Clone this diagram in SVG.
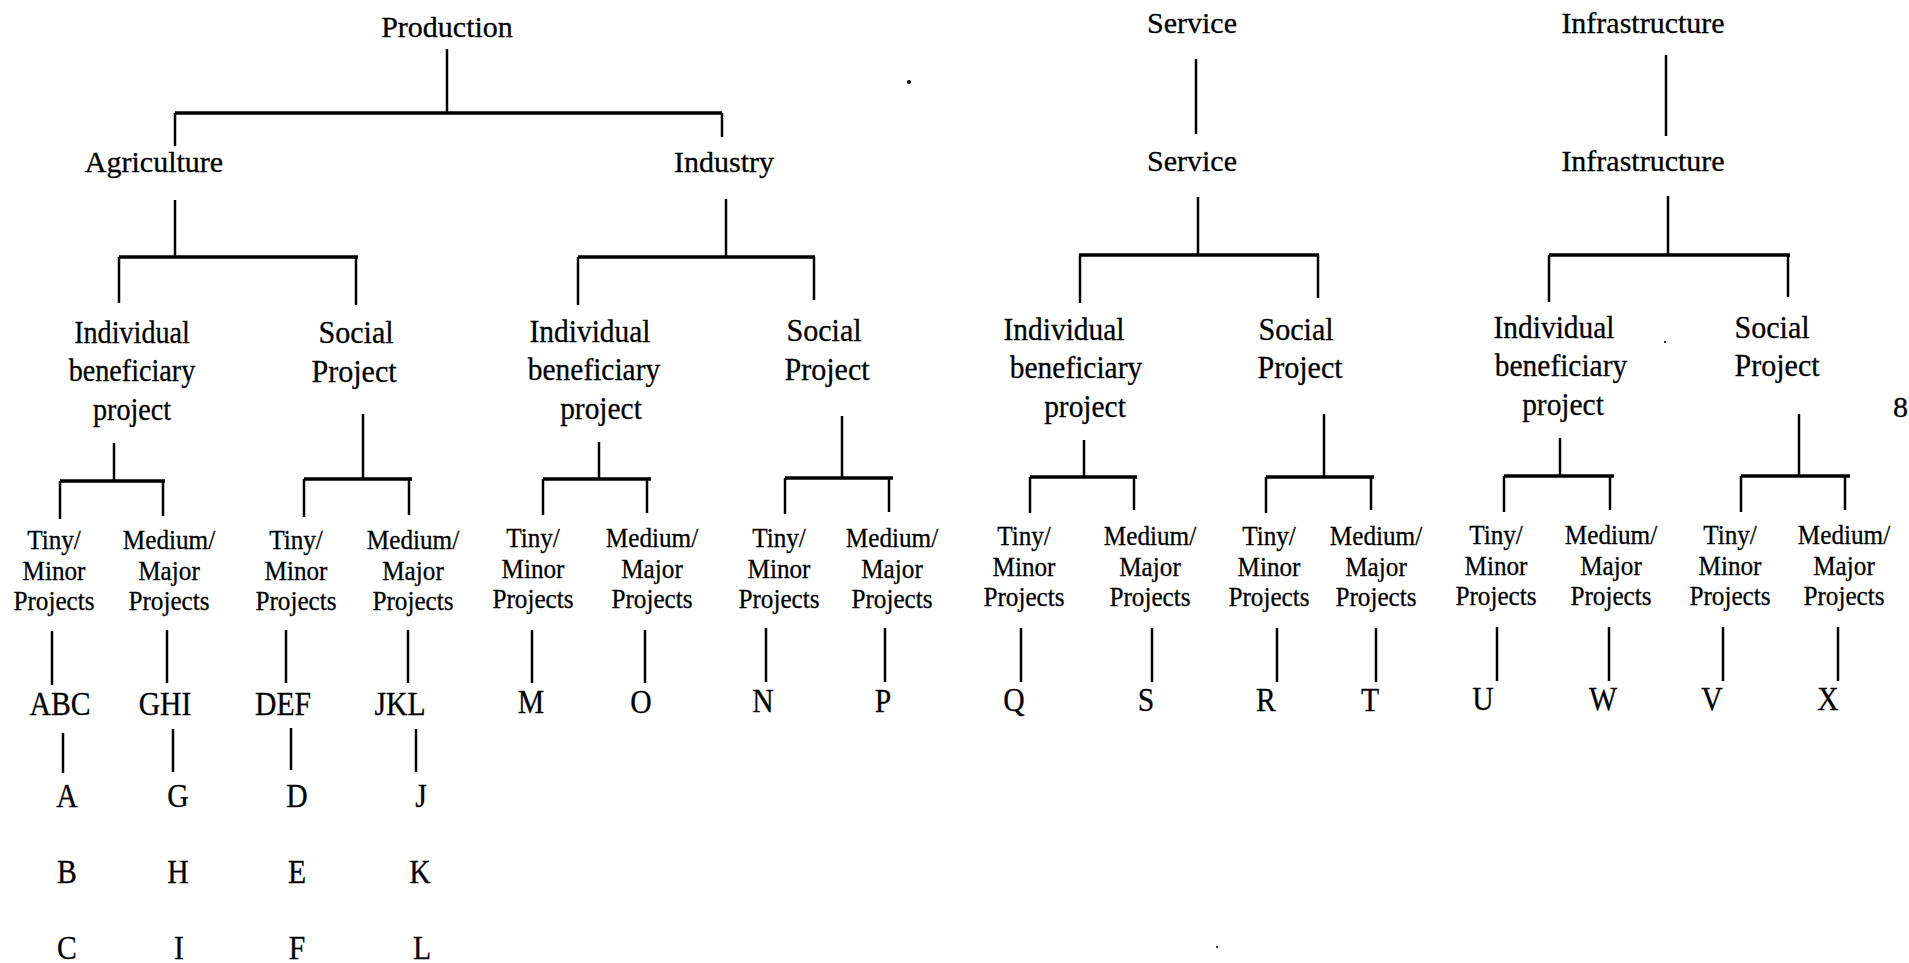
<svg xmlns="http://www.w3.org/2000/svg" width="1909" height="963" viewBox="0 0 1909 963">
<style>
text { font-family: "Liberation Serif", "Times New Roman", serif; fill: #000; text-anchor: middle; stroke: #000; stroke-width: 0.3; }
.t1 { font-size: 30px; }
.t3 { font-size: 32px; }
.t4 { font-size: 28px; }
.t5 { font-size: 33px; }
.v { stroke: #000; stroke-width: 2.5; fill: none; }
.b { stroke: #000; stroke-width: 3.5; fill: none; }
</style>
<rect width="1909" height="963" fill="#fff"/>

<g id="connectors">
  <!-- Production -->
  <path class="v" d="M447 49V112M175 113V146M722 113V137"/>
  <path class="b" d="M175 113H722"/>
  <!-- Agriculture -->
  <path class="v" d="M175 200V257M119 257V303M356 257V305"/>
  <path class="b" d="M119 257H358"/>
  <!-- Industry -->
  <path class="v" d="M726 199V257M578 257V305M814 257V300"/>
  <path class="b" d="M578 257H815"/>
  <!-- Service -->
  <path class="v" d="M1196 59V134M1198 197V255M1080 255V303M1318 255V298"/>
  <path class="b" d="M1079 255H1319"/>
  <!-- Infrastructure -->
  <path class="v" d="M1666 55V136M1668 196V255M1549 255V302M1788 255V297"/>
  <path class="b" d="M1549 255H1790"/>

  <!-- level 3 to level 4 -->
  <path class="v" d="M114 443V481M60 481V519M163 481V516"/>
  <path class="b" d="M60 481H165"/>
  <path class="v" d="M363 414V479M304 479V517M409 479V515"/>
  <path class="b" d="M304 479H412"/>
  <path class="v" d="M599 442V479M543 479V515M647 479V513"/>
  <path class="b" d="M543 479H651"/>
  <path class="v" d="M842 416V478M785 478V514M889 478V512"/>
  <path class="b" d="M785 478H893"/>
  <path class="v" d="M1084 440V477M1030 477V513M1134 477V510"/>
  <path class="b" d="M1030 477H1137"/>
  <path class="v" d="M1324 414V477M1266 477V513M1371 477V510"/>
  <path class="b" d="M1266 477H1374"/>
  <path class="v" d="M1560 438V476M1504 476V512M1610 476V510"/>
  <path class="b" d="M1504 476H1614"/>
  <path class="v" d="M1799 414V476M1741 476V512M1845 476V510"/>
  <path class="b" d="M1741 476H1850"/>

  <!-- level 4 to letters -->
  <path class="v" d="M52 631V685M167 630V683M286 630V683M408 630V683"/>
  <path class="v" d="M532 630V683M645 630V683M766 628V682M885 628V682"/>
  <path class="v" d="M1021 628V682M1152 628V682M1277 628V682M1376 628V682"/>
  <path class="v" d="M1497 627V681M1609 627V681M1723 627V681M1838 627V681"/>
  <!-- group letters to single letters -->
  <path class="v" d="M63 733V773M173 729V772M291 728V770M416 729V772"/>
</g>

<g id="n-production"><text class="t1" x="447" y="37">Production</text></g>
<g id="n-agriculture"><text class="t1" x="154" y="172">Agriculture</text></g>
<g id="n-industry"><text class="t1" x="724" y="172">Industry</text></g>
<g id="n-service-top"><text class="t1" x="1192" y="33">Service</text></g>
<g id="n-service"><text class="t1" x="1192" y="171">Service</text></g>
<g id="n-infrastructure-top"><text class="t1" x="1643" y="33">Infrastructure</text></g>
<g id="n-infrastructure"><text class="t1" x="1643" y="171">Infrastructure</text></g>

<g id="n-agri-individual">
  <text class="t3" transform="translate(132 343) scale(0.88 1)">Individual</text>
  <text class="t3" transform="translate(132 381) scale(0.88 1)">beneficiary</text>
  <text class="t3" transform="translate(132 420) scale(0.88 1)">project</text>
</g>
<g id="n-agri-social">
  <text class="t3" transform="translate(356 343) scale(0.94 1)">Social</text>
  <text class="t3" transform="translate(354 382) scale(0.94 1)">Project</text>
</g>
<g id="n-industry-individual">
  <text class="t3" transform="translate(590 342) scale(0.92 1)">Individual</text>
  <text class="t3" transform="translate(594 380) scale(0.92 1)">beneficiary</text>
  <text class="t3" transform="translate(601 419) scale(0.92 1)">project</text>
</g>
<g id="n-industry-social">
  <text class="t3" transform="translate(824 341) scale(0.94 1)">Social</text>
  <text class="t3" transform="translate(827 380) scale(0.94 1)">Project</text>
</g>
<g id="n-service-individual">
  <text class="t3" transform="translate(1064 340) scale(0.92 1)">Individual</text>
  <text class="t3" transform="translate(1076 378) scale(0.92 1)">beneficiary</text>
  <text class="t3" transform="translate(1085 417) scale(0.92 1)">project</text>
</g>
<g id="n-service-social">
  <text class="t3" transform="translate(1296 340) scale(0.94 1)">Social</text>
  <text class="t3" transform="translate(1300 378) scale(0.94 1)">Project</text>
</g>
<g id="n-infra-individual">
  <text class="t3" transform="translate(1554 338) scale(0.92 1)">Individual</text>
  <text class="t3" transform="translate(1561 376) scale(0.92 1)">beneficiary</text>
  <text class="t3" transform="translate(1563 415) scale(0.92 1)">project</text>
</g>
<g id="n-infra-social">
  <text class="t3" transform="translate(1772 338) scale(0.94 1)">Social</text>
  <text class="t3" transform="translate(1777 376) scale(0.94 1)">Project</text>
</g>

<!-- level 4 -->
<g id="n-agri-ind-tiny"><text class="t4" transform="translate(54 549) scale(0.9 1)">Tiny/</text><text class="t4" transform="translate(54 580) scale(0.9 1)">Minor</text><text class="t4" transform="translate(54 610) scale(0.9 1)">Projects</text></g>
<g id="n-agri-ind-medium"><text class="t4" transform="translate(169 549) scale(0.9 1)">Medium/</text><text class="t4" transform="translate(169 580) scale(0.9 1)">Major</text><text class="t4" transform="translate(169 610) scale(0.9 1)">Projects</text></g>
<g id="n-agri-soc-tiny"><text class="t4" transform="translate(296 549) scale(0.9 1)">Tiny/</text><text class="t4" transform="translate(296 580) scale(0.9 1)">Minor</text><text class="t4" transform="translate(296 610) scale(0.9 1)">Projects</text></g>
<g id="n-agri-soc-medium"><text class="t4" transform="translate(413 549) scale(0.9 1)">Medium/</text><text class="t4" transform="translate(413 580) scale(0.9 1)">Major</text><text class="t4" transform="translate(413 610) scale(0.9 1)">Projects</text></g>
<g id="n-ind-ind-tiny"><text class="t4" transform="translate(533 547) scale(0.9 1)">Tiny/</text><text class="t4" transform="translate(533 578) scale(0.9 1)">Minor</text><text class="t4" transform="translate(533 608) scale(0.9 1)">Projects</text></g>
<g id="n-ind-ind-medium"><text class="t4" transform="translate(652 547) scale(0.9 1)">Medium/</text><text class="t4" transform="translate(652 578) scale(0.9 1)">Major</text><text class="t4" transform="translate(652 608) scale(0.9 1)">Projects</text></g>
<g id="n-ind-soc-tiny"><text class="t4" transform="translate(779 547) scale(0.9 1)">Tiny/</text><text class="t4" transform="translate(779 578) scale(0.9 1)">Minor</text><text class="t4" transform="translate(779 608) scale(0.9 1)">Projects</text></g>
<g id="n-ind-soc-medium"><text class="t4" transform="translate(892 547) scale(0.9 1)">Medium/</text><text class="t4" transform="translate(892 578) scale(0.9 1)">Major</text><text class="t4" transform="translate(892 608) scale(0.9 1)">Projects</text></g>
<g id="n-svc-ind-tiny"><text class="t4" transform="translate(1024 545) scale(0.9 1)">Tiny/</text><text class="t4" transform="translate(1024 576) scale(0.9 1)">Minor</text><text class="t4" transform="translate(1024 606) scale(0.9 1)">Projects</text></g>
<g id="n-svc-ind-medium"><text class="t4" transform="translate(1150 545) scale(0.9 1)">Medium/</text><text class="t4" transform="translate(1150 576) scale(0.9 1)">Major</text><text class="t4" transform="translate(1150 606) scale(0.9 1)">Projects</text></g>
<g id="n-svc-soc-tiny"><text class="t4" transform="translate(1269 545) scale(0.9 1)">Tiny/</text><text class="t4" transform="translate(1269 576) scale(0.9 1)">Minor</text><text class="t4" transform="translate(1269 606) scale(0.9 1)">Projects</text></g>
<g id="n-svc-soc-medium"><text class="t4" transform="translate(1376 545) scale(0.9 1)">Medium/</text><text class="t4" transform="translate(1376 576) scale(0.9 1)">Major</text><text class="t4" transform="translate(1376 606) scale(0.9 1)">Projects</text></g>
<g id="n-inf-ind-tiny"><text class="t4" transform="translate(1496 544) scale(0.9 1)">Tiny/</text><text class="t4" transform="translate(1496 575) scale(0.9 1)">Minor</text><text class="t4" transform="translate(1496 605) scale(0.9 1)">Projects</text></g>
<g id="n-inf-ind-medium"><text class="t4" transform="translate(1611 544) scale(0.9 1)">Medium/</text><text class="t4" transform="translate(1611 575) scale(0.9 1)">Major</text><text class="t4" transform="translate(1611 605) scale(0.9 1)">Projects</text></g>
<g id="n-inf-soc-tiny"><text class="t4" transform="translate(1730 544) scale(0.9 1)">Tiny/</text><text class="t4" transform="translate(1730 575) scale(0.9 1)">Minor</text><text class="t4" transform="translate(1730 605) scale(0.9 1)">Projects</text></g>
<g id="n-inf-soc-medium"><text class="t4" transform="translate(1844 544) scale(0.9 1)">Medium/</text><text class="t4" transform="translate(1844 575) scale(0.9 1)">Major</text><text class="t4" transform="translate(1844 605) scale(0.9 1)">Projects</text></g>

<!-- letters -->
<g id="n-abc"><text class="t5" transform="translate(60 715) scale(0.9 1)">ABC</text></g>
<g id="n-ghi"><text class="t5" transform="translate(165 715) scale(0.9 1)">GHI</text></g>
<g id="n-def"><text class="t5" transform="translate(283 715) scale(0.9 1)">DEF</text></g>
<g id="n-jkl"><text class="t5" transform="translate(400 715) scale(0.9 1)">JKL</text></g>
<g id="n-m"><text class="t5" transform="translate(531 713) scale(0.9 1)">M</text></g>
<g id="n-o"><text class="t5" transform="translate(641 713) scale(0.9 1)">O</text></g>
<g id="n-n"><text class="t5" transform="translate(763 712) scale(0.9 1)">N</text></g>
<g id="n-p"><text class="t5" transform="translate(883 712) scale(0.9 1)">P</text></g>
<g id="n-q"><text class="t5" transform="translate(1014 711) scale(0.9 1)">Q</text></g>
<g id="n-s"><text class="t5" transform="translate(1146 711) scale(0.9 1)">S</text></g>
<g id="n-r"><text class="t5" transform="translate(1266 711) scale(0.9 1)">R</text></g>
<g id="n-t"><text class="t5" transform="translate(1370 711) scale(0.9 1)">T</text></g>
<g id="n-u"><text class="t5" transform="translate(1483 710) scale(0.9 1)">U</text></g>
<g id="n-w"><text class="t5" transform="translate(1603 710) scale(0.9 1)">W</text></g>
<g id="n-v"><text class="t5" transform="translate(1712 710) scale(0.9 1)">V</text></g>
<g id="n-x"><text class="t5" transform="translate(1828 710) scale(0.9 1)">X</text></g>

<g id="n-a"><text class="t5" transform="translate(67 807) scale(0.9 1)">A</text></g>
<g id="n-b"><text class="t5" transform="translate(67 883) scale(0.9 1)">B</text></g>
<g id="n-c"><text class="t5" transform="translate(67 959) scale(0.9 1)">C</text></g>
<g id="n-g"><text class="t5" transform="translate(178 807) scale(0.9 1)">G</text></g>
<g id="n-h"><text class="t5" transform="translate(178 883) scale(0.9 1)">H</text></g>
<g id="n-i"><text class="t5" transform="translate(179 959) scale(0.9 1)">I</text></g>
<g id="n-d"><text class="t5" transform="translate(297 807) scale(0.9 1)">D</text></g>
<g id="n-e"><text class="t5" transform="translate(297 883) scale(0.9 1)">E</text></g>
<g id="n-f"><text class="t5" transform="translate(297 959) scale(0.9 1)">F</text></g>
<g id="n-j"><text class="t5" transform="translate(421 807) scale(0.9 1)">J</text></g>
<g id="n-k"><text class="t5" transform="translate(420 883) scale(0.9 1)">K</text></g>
<g id="n-l"><text class="t5" transform="translate(422 959) scale(0.9 1)">L</text></g>

<g id="page-mark"><text class="t1" x="1893" y="417" style="text-anchor:start">8</text></g>
<g id="specks" fill="#000">
  <circle cx="909" cy="82" r="2"/>
  <circle cx="1665" cy="342" r="1"/>
  <circle cx="1217" cy="947" r="1"/>
</g>
</svg>
